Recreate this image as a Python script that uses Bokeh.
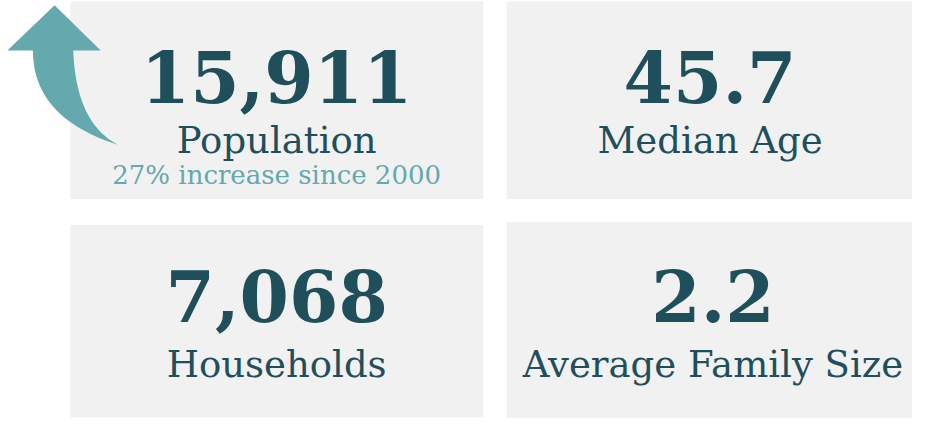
from bokeh.plotting import figure
from bokeh.models import Range1d, ColumnDataSource
from bokeh.core.properties import value
from bokeh.embed import file_html
from bokeh.resources import INLINE
import numpy as np

# ---- data ----
stat_values = ["15,911", "45.7", "7,068", "2.2"]
stat_labels = ["Population", "Median Age", "Households", "Average Family Size"]
stat_notes = ["27% increase since 2000", "", "", ""]

# ---- layout (page pixel coordinates of the reference) ----
tile_left = [71, 515, 71, 515]
tile_right = [491, 928, 491, 928]
tile_top = [1, 1, 233, 230]
tile_bottom = [206, 206, 433, 434]
text_cx = [281, 722, 281, 725]
value_base = [79, 79, 307, 307]
label_base = [145, 145, 378, 378]
note_base = [181, 0, 0, 0]

DARK = "#1f4f5b"
TEAL = "#63a9ae"
GRAY = "#f1f1f1"
FONT = "DejaVu Serif"

p = figure(width=912, height=418, output_backend="svg", toolbar_location=None,
           x_range=Range1d(0, 928), y_range=Range1d(434, 0), min_border=0)
p.axis.visible = False
p.grid.visible = False
p.outline_line_color = None
p.background_fill_color = "white"
p.border_fill_color = "white"

p.quad(left=tile_left, right=tile_right, top=tile_top, bottom=tile_bottom,
       fill_color=GRAY, line_color=None)

# arrow (decorative)
def qbez(p0, c, p1, n=30):
    t = np.linspace(0, 1, n)
    x = (1 - t) ** 2 * p0[0] + 2 * (1 - t) * t * c[0] + t ** 2 * p1[0]
    y = (1 - t) ** 2 * p0[1] + 2 * (1 - t) * t * c[1] + t ** 2 * p1[1]
    return list(x), list(y)

lx, ly = qbez((33, 52), (33, 122), (120, 150))
rx, ry = qbez((74, 52), (77, 128), (120, 150))
ax = [55, 102, 74] + rx + lx[::-1] + [7]
ay = [5, 52, 52] + ry + ly[::-1] + [52]
p.patch(ax, ay, fill_color=TEAL, line_color=None)

src = ColumnDataSource(dict(x=text_cx, vy=value_base, ly=label_base,
                            v=stat_values, l=stat_labels))
p.text(x="x", y="vy", text="v", source=src, text_font=value(FONT),
       text_font_style="bold", text_font_size="71px", text_color=DARK,
       text_align="center", text_baseline="alphabetic")
p.text(x="x", y="ly", text="l", source=src, text_font=value(FONT),
       text_font_size="37px", text_color=DARK,
       text_align="center", text_baseline="alphabetic")
p.text(x=[text_cx[0]], y=[note_base[0]], text=[stat_notes[0]], text_font=value(FONT),
       text_font_size="26px", text_color=TEAL,
       text_align="center", text_baseline="alphabetic")

open("out.html", "w").write(file_html(p, INLINE))
